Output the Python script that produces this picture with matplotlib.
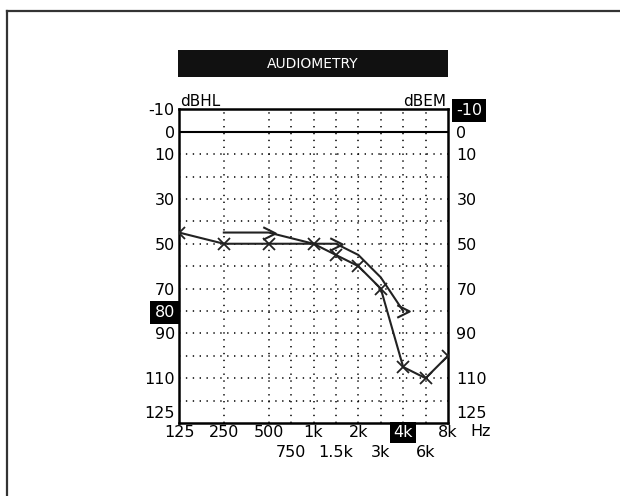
import numpy as np
import matplotlib
matplotlib.use('Agg')
import matplotlib.pyplot as plt
from matplotlib.path import Path
from matplotlib.lines import Line2D
from matplotlib.patches import Rectangle

W, H = 620, 496

# ---------------- data ----------------
row1_freqs = [125, 250, 500, 1000, 2000, 4000, 8000]
row1_labels = ['125', '250', '500', '1k', '2k', '4k', '8k']
row2_freqs = [750, 1500, 3000, 6000]
row2_labels = ['750', '1.5k', '3k', '6k']
grid_freqs = [250, 500, 750, 1000, 1500, 2000, 3000, 4000, 6000]
grid_levels = [10, 20, 30, 40, 50, 60, 70, 80, 90, 100, 110, 120]

freq_a = [125, 250, 500, 1000, 1500, 2000, 3000, 4000, 6000, 8000]
level_a = [45, 50, 50, 50, 55, 60, 70, 105, 110, 100]
freq_b = [250, 500, 1000, 1500, 2000, 3000, 4000]
level_b = [45, 45, 50, 50, 55, 65, 80]

left_ticks = [-10, 0, 10, 30, 50, 70, 80, 90, 110, 125]
right_ticks = [-10, 0, 10, 30, 50, 70, 90, 110, 125]
cursor_freq = '4k'
cursor_left = '80'
cursor_right = '-10'


def apos(f):
    """audiogram x position: octaves above 125 Hz, intermediate freqs at half-octave"""
    return np.round(np.log2(np.asarray(f, dtype=float) / 125.0) * 2) / 2


def fx(x):
    return x / W


def fy(y):
    return 1 - y / H


fig = plt.figure(figsize=(W / 100, H / 100), dpi=100)
fig.patch.set_facecolor('white')

# page border (top and left)
fig.add_artist(Line2D([fx(7), fx(620)], [fy(11), fy(11)], color='#333333', lw=1.6))
fig.add_artist(Line2D([fx(7), fx(7)], [fy(11), fy(496)], color='#333333', lw=1.6))

ax = fig.add_axes([fx(179), fy(423), (448 - 179) / W, (423 - 109.3) / H])
ax.set_xlim(0, 6)
ax.set_ylim(130, -10)

dot = (0, (0.9, 3.6))
for lv in grid_levels:
    ax.axhline(lv, color='black', lw=1.1, linestyle=dot, zorder=1)
for f in grid_freqs:
    ax.axvline(apos(f), color='black', lw=1.1, linestyle=dot, zorder=1)
ax.axhline(0, color='black', lw=1.5, zorder=2)

for s in ax.spines.values():
    s.set_linewidth(1.8)

chev = Path([(-1, 1), (1, 0), (-1, -1)], [Path.MOVETO, Path.LINETO, Path.LINETO])

ax.plot(apos(freq_a), level_a, color='#222222', lw=1.5, marker='x', ms=9,
        mew=1.3, zorder=4)
ax.plot(apos(freq_b), level_b, color='#222222', lw=1.5, zorder=3)
ax.plot(apos(freq_b)[[1, 3, 6]], np.array(level_b)[[1, 3, 6]], ls='none',
        marker=chev, ms=9, mew=1.5, mfc='none', color='#222222', zorder=4)

# y tick labels
ax.set_xticks([])
ax.set_yticks(left_ticks)
ax.set_yticklabels([str(t) for t in left_ticks])
ax.tick_params(axis='y', length=0, pad=3, labelsize=11.5)
for lbl in ax.get_yticklabels():
    if lbl.get_text() == cursor_left:
        lbl.set_color('white')
        lbl.set_bbox(dict(facecolor='black', edgecolor='none',
                          boxstyle='square,pad=0.25'))

ax2 = ax.twinx()
ax2.set_ylim(ax.get_ylim())
ax2.set_yticks(right_ticks)
ax2.set_yticklabels([str(t) for t in right_ticks])
ax2.tick_params(axis='y', length=0, pad=6, labelsize=11.5)
for s in ax2.spines.values():
    s.set_visible(False)
for lbl in ax2.get_yticklabels():
    if lbl.get_text() == cursor_right:
        lbl.set_color('white')
        lbl.set_bbox(dict(facecolor='black', edgecolor='none',
                          boxstyle='square,pad=0.25'))

# x labels
xt = ax.get_xaxis_transform()
for f, lab in zip(row1_freqs, row1_labels):
    kw = {}
    col = 'black'
    if lab == cursor_freq:
        col = 'white'
        kw['bbox'] = dict(facecolor='black', edgecolor='none', boxstyle='square,pad=0.2')
    ax.text(apos(f), -0.03, lab, transform=xt, ha='center', va='center',
            fontsize=11.5, color=col, clip_on=False, **kw)
for f, lab in zip(row2_freqs, row2_labels):
    ax.text(apos(f), -0.093, lab, transform=xt, ha='center', va='center',
            fontsize=11.5, color='black', clip_on=False)
fig.text(fx(470), fy(432), 'Hz', ha='left', va='center', fontsize=11.5)

# unit labels
fig.text(fx(180), fy(101), 'dBHL', ha='left', va='center', fontsize=11)
fig.text(fx(446), fy(101), 'dBEM', ha='right', va='center', fontsize=11)

# title bar
fig.add_artist(Rectangle((fx(178), fy(77)), (448 - 178) / W, (77 - 50) / H,
                         facecolor='#111111', edgecolor='none'))
fig.text(fx(313), fy(63.5), 'AUDIOMETRY', ha='center', va='center',
         fontsize=10, color='white')

fig.savefig('out.png', dpi=100)
